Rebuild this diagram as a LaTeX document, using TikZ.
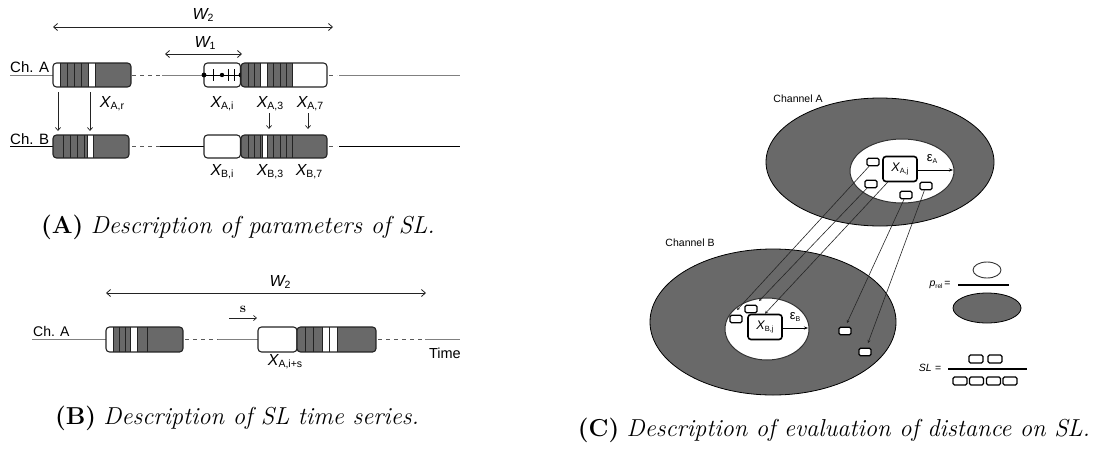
\documentclass[tikz,border=0pt]{standalone}
\usepackage{fontspec}
\newfontfamily\lab{Liberation Sans}
\usetikzlibrary{arrows.meta}
\definecolor{fillg}{RGB}{105,105,105}
\definecolor{lineg}{RGB}{35,35,35}
\newcommand\XL[2]{{\lab\fontsize{16}{16}\selectfont\itshape #1}\raisebox{-0.45ex}{\lab\fontsize{10.5}{10.5}\selectfont #2}}
\newcommand\XS[2]{{\lab\fontsize{12.5}{12.5}\selectfont\itshape #1}\raisebox{-0.45ex}{\lab\fontsize{7.5}{7.5}\selectfont #2}}
\newcommand\capt[2]{{\fontsize{24.5}{28}\selectfont\textbf{(#1)} \textit{#2}}}
\begin{document}
\begin{tikzpicture}[x=1pt,y=-1pt,
  blk/.style={draw=lineg,line width=1.1pt,rounded corners=3.5pt},
  dv/.style={draw=lineg,line width=0.8pt},
  chline/.style={draw=gray,line width=0.8pt},
  chlineb/.style={draw=black,line width=1.2pt},
  dsh/.style={draw=gray!70!black,line width=1pt,dash pattern=on 4pt off 4pt},
  warr/.style={draw=lineg,line width=0.8pt,{Straight Barb[length=4pt,width=7pt]}-{Straight Barb[length=4pt,width=7pt]}},
  darr/.style={draw=lineg,line width=0.7pt,-{Straight Barb[length=3pt,width=5pt]}},
  lbl/.style={inner sep=0pt},
  sbox/.style={draw=black,line width=1.2pt,rounded corners=1.5pt,minimum width=12pt,minimum height=7.5pt,inner sep=0pt,fill=white},
  bigbox/.style={draw=black,line width=1.6pt,rounded corners=3pt,minimum width=34pt,minimum height=25pt,inner sep=0pt,fill=white},
  conn/.style={draw=black!85,line width=0.6pt,-{Stealth[length=3pt,width=3pt]}},
  eps/.style={draw=black,line width=0.6pt,-{Stealth[length=4pt,width=3pt]}}
]
\useasboundingbox (0,0) rectangle (1102,453);

% ================= Panel A =================
\coordinate (w2l) at (53,27); \coordinate (w2r) at (333,27);
\draw[warr] (w2l) -- (w2r);
\node[lbl] (w2) at (203,15) {\XL{W}{2}};
\coordinate (w1l) at (165,54); \coordinate (w1r) at (242,54);
\draw[warr] (w1l) -- (w1r);
\node[lbl] (w1) at (205,43) {\XL{W}{1}};

\node[lbl,anchor=south west] (cha) at (10,73) {\lab\fontsize{15}{15}\selectfont Ch. A};
\draw[chline] (10,75) -- (53,75);
\begin{scope}
\clip[rounded corners=3.5pt] (53,63) rectangle (131,87);
\fill[fillg] (60,63) rectangle (88,87);
\fill[fillg] (95,63) rectangle (131,87);
\foreach \x in {60,67,74,81,88,95} \draw[dv] (\x,63) -- (\x,87);
\end{scope}
\draw[blk] (53,63) rectangle (131,87);
\draw[dsh] (132,75) -- (162,75);
\draw[chline] (162,75) -- (204,75);
\draw[blk] (204,63) rectangle (240.5,87);
\draw[line width=1pt] (204,75) -- (241,75);
\foreach \x in {213,228,234} \draw[line width=0.8pt] (\x,69) -- (\x,81);
\fill (204,75) circle (2.4pt);
\fill (222,75) circle (2.2pt);
\fill (241,75) circle (2.4pt);
\begin{scope}
\clip[rounded corners=3.5pt] (241,63) rectangle (327,87);
\fill[fillg] (241,63) rectangle (260,87);
\fill[fillg] (267,63) rectangle (292,87);
\foreach \x in {248,254,260,267,273,280,286,292} \draw[dv] (\x,63) -- (\x,87);
\end{scope}
\draw[blk] (241,63) rectangle (327,87);
\draw[dsh] (329,75) -- (337,75);
\draw[chline] (339,75) -- (460,75);

\node[lbl] (xar) at (112,104) {\XL{X}{A,r}};
\node[lbl] (xai) at (222,104) {\XL{X}{A,i}};
\node[lbl] (xa3) at (270,104) {\XL{X}{A,3}};
\node[lbl] (xa7) at (310,104) {\XL{X}{A,7}};

\coordinate (d1s) at (58,92); \coordinate (d1e) at (58,131);
\coordinate (d2s) at (90,92); \coordinate (d2e) at (90,131);
\draw[darr] (d1s) -- (d1e);
\draw[darr] (d2s) -- (d2e);
\coordinate (d3s) at (269,113); \coordinate (d3e) at (269,129);
\coordinate (d4s) at (308,113); \coordinate (d4e) at (308,129);
\draw[darr] (d3s) -- (d3e);
\draw[darr] (d4s) -- (d4e);

\node[lbl,anchor=south west] (chb) at (10,145) {\lab\fontsize{15}{15}\selectfont Ch. B};
\draw[chlineb] (10,146.5) -- (53,146.5);
\begin{scope}
\clip[rounded corners=3.5pt] (53,135) rectangle (129,158);
\fill[fillg] (53,135) rectangle (87,158);
\fill[fillg] (93,135) rectangle (129,158);
\foreach \x in {63,70,77,84,87,93} \draw[dv] (\x,135) -- (\x,158);
\end{scope}
\draw[blk] (53,135) rectangle (129,158);
\draw[dsh] (132,146.5) -- (160,146.5);
\draw[chlineb] (160,146.5) -- (204,146.5);
\draw[blk,fill=white] (204,135) rectangle (240.5,158);
\begin{scope}
\clip[rounded corners=3.5pt] (241,135) rectangle (327,158);
\fill[fillg] (241,135) rectangle (262,158);
\fill[fillg] (267,135) rectangle (327,158);
\foreach \x in {248,254,260,262,267,273,280,286,292} \draw[dv] (\x,135) -- (\x,158);
\end{scope}
\draw[blk] (241,135) rectangle (327,158);
\draw[dsh] (329,146.5) -- (337,146.5);
\draw[chlineb] (339,146.5) -- (460,146.5);

\node[lbl] (xbi) at (222,172) {\XL{X}{B,i}};
\node[lbl] (xb3) at (270,172) {\XL{X}{B,3}};
\node[lbl] (xb7) at (309,172) {\XL{X}{B,7}};

\node (capA) at (238,227) {\capt{A}{Description of parameters of SL.}};

% ================= Panel B =================
\coordinate (bw2l) at (106,293); \coordinate (bw2r) at (426,293);
\draw[warr] (bw2l) -- (bw2r);
\node[lbl] (bw2) at (280,282) {\XL{W}{2}};
\coordinate (ss) at (229,318); \coordinate (se) at (257,318);
\draw[darr] (ss) -- (se);
\node[lbl] (slab) at (243,309) {\fontsize{14}{14}\selectfont\bfseries s};

\node[lbl,anchor=south west] (chab) at (33,337) {\lab\fontsize{14}{14}\selectfont Ch. A};
\draw[chline] (32,339.5) -- (106,339.5);
\begin{scope}
\clip[rounded corners=3.5pt] (106,327) rectangle (183,352);
\fill[fillg] (113,327) rectangle (130,352);
\fill[fillg] (137,327) rectangle (183,352);
\foreach \x in {113,119,125,130,137,147} \draw[dv] (\x,327) -- (\x,352);
\end{scope}
\draw[blk] (106,327) rectangle (183,352);
\draw[dsh] (185,339.5) -- (218,339.5);
\draw[chline] (218,339.5) -- (258,339.5);
\draw[blk,fill=white] (258,327) rectangle (297,352);
\begin{scope}
\clip[rounded corners=3.5pt] (297,327) rectangle (376,352);
\fill[fillg] (297,327) rectangle (322,352);
\fill[fillg] (337,327) rectangle (376,352);
\foreach \x in {305,313,322,329.5,337} \draw[dv] (\x,327) -- (\x,352);
\end{scope}
\draw[blk] (297,327) rectangle (376,352);
\draw[dsh] (378,339.5) -- (425,339.5);
\draw[chline] (425,339.5) -- (460,339.5);
\node[lbl,anchor=east] (time) at (461,353) {\lab\fontsize{14.5}{14.5}\selectfont Time};
\node[lbl] (xais) at (285,362) {\XL{X}{A,i+s}};

\node (capB) at (237,418) {\capt{B}{Description of SL time series.}};

% ================= Panel C =================
\node[lbl] (chanA) at (798,99) {\lab\fontsize{10.5}{10.5}\selectfont Channel A};
\draw[fill=fillg,draw=black,line width=0.8pt] (880,162) ellipse [x radius=114, y radius=64];
\draw[fill=white,draw=black!80,line width=1pt] (902,171) ellipse [x radius=52, y radius=32];
\node[bigbox] (xaj) at (900,169) {\XS{X}{A,j}};
\node[sbox] (a1) at (873,162) {};
\node[sbox] (a2) at (871,184) {};
\node[sbox] (a3) at (906,195) {};
\node[sbox] (a4) at (926,186) {};
\coordinate (epsAe) at (953,170);
\draw[eps] (xaj.east |- epsAe) -- (epsAe);
\node[lbl] (epsA) at (932,159) {{\lab\fontsize{13}{13}\selectfont ε}\raisebox{-0.5ex}{\lab\fontsize{7}{7}\selectfont A}};

\node[lbl] (chanB) at (690,243) {\lab\fontsize{10.5}{10.5}\selectfont Channel B};
\draw[fill=fillg,draw=black,line width=0.8pt] (773,322) ellipse [x radius=123, y radius=73];
\draw[fill=white,draw=black!80,line width=1pt] (767,329) ellipse [x radius=42, y radius=31];
\node[bigbox] (xbj) at (765,327) {\XS{X}{B,j}};
\node[sbox] (b1) at (736,319) {};
\node[sbox] (b2) at (751,309) {};
\node[sbox] (o1) at (845,331) {};
\node[sbox] (o2) at (865,352) {};
\coordinate (epsBe) at (808,328);
\draw[eps] (xbj.east |- epsBe) -- (epsBe);
\node[lbl] (epsB) at (795,317) {{\lab\fontsize{13}{13}\selectfont ε}\raisebox{-0.5ex}{\lab\fontsize{7}{7}\selectfont B}};

\coordinate (t1) at (737,310);
\coordinate (t2) at (759,301);
\coordinate (t4) at (847,323);
\coordinate (t5) at (868,343);
\draw[conn] (a1) -- (t1);
\draw[conn] (a2) -- (t2);
\draw[conn] (xaj) -- (xbj.north);
\draw[conn] (a3) -- (t4);
\draw[conn] (a4) -- (t5);

\node[lbl] (prel) at (940,285) {{\lab\fontsize{10.5}{10.5}\selectfont\itshape p}\raisebox{-0.4ex}{\lab\fontsize{6.5}{6.5}\selectfont rel}\,{\lab\fontsize{10.5}{10.5}\selectfont =}};
\draw[fill=white,draw=black!80,line width=0.9pt] (987,270) ellipse [x radius=14, y radius=8];
\coordinate (fl1) at (958,285); \coordinate (fr1) at (1009,285);
\draw[line width=1.3pt] (fl1) -- (fr1);
\draw[fill=fillg,draw=black,line width=0.8pt] (987,308) ellipse [x radius=34, y radius=15];

\node[lbl] (sleq) at (930,368) {{\lab\fontsize{10.5}{10.5}\selectfont\itshape SL} {\lab\fontsize{10.5}{10.5}\selectfont =}};
\node[sbox,minimum width=14pt,minimum height=8pt] (n1) at (976,359) {};
\node[sbox,minimum width=14pt,minimum height=8pt] (n2) at (995,359) {};
\coordinate (fl2) at (948,369); \coordinate (fr2) at (1027,369);
\draw[line width=1.3pt] (fl2) -- (fr2);
\foreach \i/\x in {1/960,2/976.5,3/993.5,4/1010}
  \node[sbox,minimum width=14pt,minimum height=8pt] (m\i) at (\x,381) {};

\node (capC) at (834,430) {\capt{C}{Description of evaluation of distance on SL.}};
\end{tikzpicture}
\end{document}
